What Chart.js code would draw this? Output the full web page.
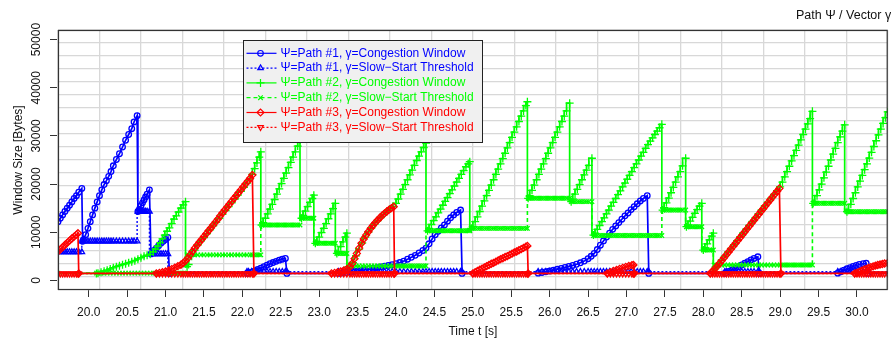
<!DOCTYPE html>
<html>
<head>
<meta charset="utf-8">
<script src="https://cdn.jsdelivr.net/npm/chart.js@4.4.1/dist/chart.umd.min.js"></script>
<style>
  html, body { margin: 0; padding: 0; background: #fff; overflow: hidden; }
  #wrap { width: 893px; height: 342px; }
</style>
</head>
<body>
<div id="wrap"><canvas id="cwnd" width="893" height="342"></canvas></div>
<script>
const FONT = '"Liberation Sans", Arial, Helvetica, sans-serif';

// axis ticks
const timeTicks = [20.0, 20.5, 21.0, 21.5, 22.0, 22.5, 23.0, 23.5, 24.0, 24.5, 25.0,
                   25.5, 26.0, 26.5, 27.0, 27.5, 28.0, 28.5, 29.0, 29.5, 30.0];
const windowTicks = [0, 10000, 20000, 30000, 40000, 50000];

// trace rows: [time t (s), congestion window (bytes), slow-start threshold (bytes)]
const path1Trace = [
  [19.60,12200,5900],[19.63,12900,5900],[19.66,13600,5900],[19.69,14300,5900],[19.72,15000,5900],[19.75,15600,5900],[19.78,16300,5900],[19.81,17000,5900],[19.84,17600,5900],[19.87,18300,5900],[19.91,19100,5900],
  [19.92,8100,8100],[19.93,8400,8100],[19.96,9500,8100],[19.99,10800,8100],[20.02,12200,8100],[20.05,13600,8100],[20.08,15000,8100],[20.11,16300,8100],[20.14,17600,8100],[20.17,18800,8100],[20.20,19900,8100],[20.23,20700,8100],[20.26,21600,8100],[20.29,22600,8100],[20.32,23800,8100],[20.36,25100,8100],[20.40,26300,8100],[20.44,27700,8100],[20.48,29100,8100],[20.52,30300,8100],[20.56,31500,8100],[20.59,32900,8100],[20.63,34200,8100],
  [20.64,14300,14300],[20.66,14800,14300],[20.68,15500,14300],[20.70,16100,14300],[20.72,16700,14300],[20.74,17300,14300],[20.76,17900,14300],[20.79,18800,14300],
  [20.81,5500,5500],[20.83,5800,5500],[20.85,6200,5500],[20.88,6700,5500],[20.91,7200,5500],[20.94,7700,5500],[20.97,8100,5500],[21.00,8500,5500],[21.03,8900,5500],
  [21.05,1450,1800],[22.06,1450,1800],
  [22.08,1500,1800],[22.12,1700,1800],[22.16,1950,1800],[22.20,2250,1800],[22.24,2550,1800],[22.28,2850,1800],[22.32,3150,1800],[22.36,3450,1800],[22.40,3700,1800],[22.44,3950,1800],[22.48,4200,1800],[22.52,4400,1800],[22.56,4550,1800],
  [22.58,1450,1800],[23.25,1450,1800],
  [23.30,1550,1800],[23.35,1650,1800],[23.40,1750,1800],[23.45,1850,1800],[23.50,1950,1800],[23.55,2050,1800],[23.60,2200,1800],[23.65,2350,1800],[23.70,2500,1800],[23.75,2650,1800],[23.80,2800,1800],[23.85,2950,1800],
  [23.90,3100,1800],[23.95,3250,1800],[24.00,3450,1800],[24.05,3700,1800],[24.10,4000,1800],[24.15,4400,1800],[24.20,4800,1800],[24.25,5200,1800],[24.30,5700,1800],[24.35,6200,1800],[24.39,6700,1800],
  [24.43,7600,1800],[24.47,8600,1800],[24.51,9500,1800],[24.55,10200,1800],[24.59,10900,1800],[24.63,11500,1800],[24.67,12300,1800],[24.71,13000,1800],[24.75,13600,1800],[24.79,14100,1800],[24.84,14600,1800],
  [24.86,1450,1800],
  [25.85,1500,1800],[25.90,1650,1800],[25.95,1800,1800],[26.00,1950,1800],[26.05,2100,1800],[26.10,2300,1800],[26.15,2500,1800],[26.20,2700,1800],[26.25,2900,1800],[26.30,3100,1800],[26.35,3350,1800],
  [26.40,3650,1800],[26.45,4000,1800],[26.50,4500,1800],[26.54,5000,1800],[26.58,5600,1800],[26.62,6400,1800],[26.66,7300,1800],[26.70,8200,1800],[26.74,9000,1800],[26.78,9800,1800],[26.82,10600,1800],
  [26.86,11300,1800],[26.90,12000,1800],[26.94,12700,1800],[26.98,13400,1800],[27.02,14000,1800],[27.06,14700,1800],[27.10,15300,1800],[27.14,15900,1800],[27.18,16500,1800],[27.22,17000,1800],[27.27,17600,1800],
  [27.29,1450,1800],[28.28,1450,1800],
  [28.30,1600,1800],[28.34,1900,1800],[28.38,2200,1800],[28.42,2500,1800],[28.46,2850,1800],[28.50,3200,1800],[28.54,3550,1800],[28.58,3900,1800],[28.62,4250,1800],[28.66,4550,1800],[28.71,4900,1800],
  [28.73,1450,1800],
  [29.75,1500,1800],[29.79,1800,1800],[29.83,2100,1800],[29.87,2400,1800],[29.91,2650,1800],[29.95,2900,1800],[29.99,3100,1800],[30.03,3300,1800],[30.08,3450,1800],[30.12,3550,1800],
  [30.14,1450,1800],[30.45,1450,1800]
];

const path2Trace = [
  [19.60,1450,1500],[20.10,1450,1500],
  [20.12,1500,1500],[20.16,1700,1500],[20.20,1900,1500],[20.24,2100,1500],[20.28,2350,1500],[20.32,2600,1500],[20.36,2850,1500],[20.40,3050,1500],[20.44,3250,1500],[20.48,3450,1500],[20.52,3650,1500],
  [20.56,3850,1500],[20.60,4100,1500],[20.64,4400,1500],[20.68,4700,1500],[20.72,5000,1500],[20.76,5200,1500],[20.80,5400,1500],[20.84,5900,1500],[20.87,6500,1500],[20.90,7100,1500],[20.93,7800,1500],
  [20.96,8600,1500],[20.99,9400,1500],[21.02,10200,1500],[21.05,10900,1500],[21.08,11800,1500],[21.11,12700,1500],[21.14,13400,1500],[21.17,14200,1500],[21.20,15000,1500],[21.23,15700,1500],[21.26,16350,1500],
  [21.28,2850,5300],[21.30,3300,5300],[21.34,5000,5300],[21.38,6300,5300],[21.42,7400,5300],[21.46,8200,5300],[21.50,8900,5300],[21.54,9700,5300],[21.58,10500,5300],[21.62,11300,5300],[21.66,12100,5300],
  [21.70,12900,5300],[21.74,13700,5300],[21.78,14500,5300],[21.82,15300,5300],[21.86,16100,5300],[21.90,16900,5300],[21.94,17700,5300],[21.98,18500,5300],[22.02,19300,5300],[22.06,20200,5300],
  [22.10,21100,5300],[22.13,22000,5300],[22.16,23200,5300],[22.19,24400,5300],[22.22,25600,5300],[22.24,26700,5300],
  [22.25,11500,11500],[22.27,12000,11500],[22.30,12900,11500],[22.33,13800,11500],[22.36,14800,11500],[22.39,15800,11500],[22.42,16800,11500],[22.45,17900,11500],[22.48,19000,11500],
  [22.51,20100,11500],[22.54,21200,11500],[22.57,22300,11500],[22.60,23400,11500],[22.63,24500,11500],[22.66,25600,11500],[22.69,26700,11500],[22.72,27900,11500],[22.75,29200,11500],
  [22.77,12900,12900],[22.79,13500,12900],[22.82,14400,12900],[22.85,15300,12900],[22.88,16200,12900],[22.91,17000,12900],[22.93,17700,12900],
  [22.95,7700,7700],[22.97,8100,7700],[23.00,9000,7700],[23.03,9900,7700],[23.06,10800,7700],[23.09,11800,7700],[23.12,12800,7700],[23.15,13800,7700],[23.18,14900,7700],[23.21,16000,7700],
  [23.23,5600,5600],[23.25,6000,5600],[23.28,7000,5600],[23.31,8000,5600],[23.34,9000,5600],[23.36,9800,5600],
  [23.38,2850,3000],[23.40,2900,3000],[23.44,3700,3000],[23.48,5100,3000],[23.52,6500,3000],[23.56,7800,3000],[23.60,9000,3000],[23.64,10000,3000],[23.68,10900,3000],[23.72,11700,3000],
  [23.76,12400,3000],[23.80,13100,3000],[23.84,13700,3000],[23.88,14300,3000],[23.92,14800,3000],[23.96,15300,3000],[24.00,16000,3000],[24.03,16900,3000],[24.06,17900,3000],[24.09,18900,3000],
  [24.12,19900,3000],[24.15,20900,3000],[24.18,21900,3000],[24.21,22900,3000],[24.24,23900,3000],[24.27,24900,3000],[24.30,25800,3000],[24.33,26700,3000],[24.36,27600,3000],[24.39,28500,3000],
  [24.41,10300,10300],[24.43,10800,10300],[24.46,11600,10300],[24.49,12400,10300],[24.52,13200,10300],[24.55,14000,10300],[24.58,14800,10300],[24.61,15600,10300],[24.64,16400,10300],[24.67,17200,10300],
  [24.70,18000,10300],[24.73,18800,10300],[24.76,19600,10300],[24.79,20400,10300],[24.82,21200,10300],[24.85,22000,10300],[24.88,22800,10300],[24.91,23600,10300],[24.94,24200,10300],[24.96,24650,10300],
  [24.98,10800,10800],[25.00,11200,10800],[25.03,12200,10800],[25.06,13200,10800],[25.09,14300,10800],[25.12,15400,10800],[25.15,16500,10800],[25.18,17600,10800],[25.21,18700,10800],
  [25.24,19800,10800],[25.27,20900,10800],[25.30,22000,10800],[25.33,23100,10800],[25.36,24200,10800],[25.39,25300,10800],[25.42,26400,10800],[25.45,27500,10800],[25.48,28600,10800],
  [25.51,29700,10800],[25.54,30800,10800],[25.57,31900,10800],[25.60,33000,10800],[25.63,34100,10800],[25.66,35200,10800],[25.69,36300,10800],[25.71,37100,10800],
  [25.72,17050,17050],[25.74,17600,17050],[25.77,18700,17050],[25.80,19800,17050],[25.83,20900,17050],[25.86,22000,17050],[25.89,23100,17050],[25.92,24200,17050],[25.95,25300,17050],
  [25.98,26400,17050],[26.01,27500,17050],[26.04,28600,17050],[26.07,29700,17050],[26.10,30800,17050],[26.13,31900,17050],[26.16,33000,17050],[26.19,34100,17050],[26.22,35200,17050],[26.26,36800,17050],
  [26.28,16350,16350],[26.30,16900,16350],[26.33,17900,16350],[26.36,18900,16350],[26.39,19900,16350],[26.42,20900,16350],[26.45,21900,16350],[26.48,22900,16350],[26.51,23900,16350],[26.55,25360,16350],
  [26.57,9400,9300],[26.59,9800,9300],[26.62,10600,9300],[26.65,11400,9300],[26.68,12200,9300],[26.71,13000,9300],[26.74,13800,9300],[26.77,14600,9300],[26.80,15400,9300],[26.83,16200,9300],
  [26.86,17000,9300],[26.89,17800,9300],[26.92,18600,9300],[26.95,19400,9300],[26.98,20200,9300],[27.01,21000,9300],[27.04,21800,9300],[27.07,22600,9300],[27.10,23400,9300],[27.13,24200,9300],
  [27.16,25000,9300],[27.19,25800,9300],[27.22,26600,9300],[27.25,27400,9300],[27.28,28200,9300],[27.31,28900,9300],[27.34,29600,9300],[27.37,30300,9300],[27.40,31000,9300],[27.43,31700,9300],[27.46,32400,9300],
  [27.47,14600,14600],[27.49,15100,14600],[27.52,16100,14600],[27.55,17100,14600],[27.58,18200,14600],[27.61,19300,14600],[27.64,20400,14600],[27.67,21500,14600],[27.70,22600,14600],[27.73,23800,14600],[27.77,25360,14600],
  [27.78,11150,11150],[27.80,11500,11150],[27.83,12300,11150],[27.86,13100,11150],[27.89,13900,11150],[27.92,14700,11150],[27.95,15400,11150],[27.98,16000,11150],
  [28.00,6300,6300],[28.02,6800,6300],[28.05,7600,6300],[28.08,8400,6300],[28.11,9200,6300],[28.13,9800,6300],
  [28.14,2200,3200],[28.16,2600,3200],[28.20,3400,3200],[28.24,4200,3200],[28.28,5000,3200],[28.32,5800,3200],[28.36,6600,3200],[28.40,7400,3200],[28.44,8200,3200],[28.48,9000,3200],
  [28.52,9800,3200],[28.56,10600,3200],[28.60,11400,3200],[28.64,12200,3200],[28.68,13000,3200],[28.72,13800,3200],[28.76,14600,3200],[28.80,15400,3200],[28.84,16200,3200],[28.88,17000,3200],
  [28.92,17800,3200],[28.96,18600,3200],[29.00,19400,3200],[29.03,20400,3200],[29.06,21500,3200],[29.09,22600,3200],[29.12,23700,3200],[29.15,24800,3200],[29.18,25900,3200],[29.21,27000,3200],
  [29.24,28100,3200],[29.27,29200,3200],[29.30,30300,3200],[29.33,31400,3200],[29.36,32500,3200],[29.39,33600,3200],[29.42,35100,3200],
  [29.43,16000,16000],[29.45,16400,16000],[29.48,17600,16000],[29.51,18800,16000],[29.54,20000,16000],[29.57,21300,16000],[29.60,22500,16000],[29.63,23700,16000],
  [29.66,25000,16000],[29.69,26200,16000],[29.72,27400,16000],[29.75,28600,16000],[29.78,29800,16000],[29.81,31000,16000],[29.84,32300,16000],
  [29.87,14270,14270],[29.89,14600,14270],[29.92,15800,14270],[29.95,17000,14270],[29.98,18200,14270],[30.01,19400,14270],[30.04,20600,14270],[30.07,21800,14270],[30.10,23000,14270],
  [30.13,24200,14270],[30.16,25400,14270],[30.19,26600,14270],[30.22,27800,14270],[30.25,29000,14270],[30.28,30200,14270],[30.31,31400,14270],[30.34,32600,14270],[30.37,33800,14270],[30.40,35000,14270]
];

const path3Trace = [
  [19.60,6000,1400],[19.63,6450,1400],[19.66,6900,1400],[19.69,7350,1400],[19.72,7800,1400],[19.75,8250,1400],[19.78,8700,1400],[19.81,9100,1400],[19.84,9500,1400],[19.86,9800,1400],
  [19.87,1450,1400],
  [20.88,1450,1400],[20.92,1550,1400],[20.96,1700,1400],[21.00,1850,1400],[21.04,2050,1400],[21.08,2350,1400],[21.12,2650,1400],[21.16,2950,1400],[21.20,3250,1400],[21.23,3600,1400],
  [21.26,4050,1400],[21.29,4600,1400],[21.32,5300,1400],[21.35,6000,1400],[21.38,6700,1400],[21.41,7300,1400],[21.44,7900,1400],[21.47,8500,1400],[21.50,9100,1400],[21.53,9700,1400],
  [21.56,10300,1400],[21.59,10900,1400],[21.62,11500,1400],[21.65,12100,1400],[21.68,12700,1400],[21.71,13400,1400],[21.74,14000,1400],[21.77,14600,1400],[21.80,15200,1400],[21.83,15800,1400],
  [21.86,16400,1400],[21.89,17000,1400],[21.92,17600,1400],[21.95,18200,1400],[21.98,18800,1400],[22.01,19400,1400],[22.04,20000,1400],[22.07,20600,1400],[22.10,21200,1400],[22.13,21900,1400],
  [22.15,1450,1400],
  [23.16,1450,1400],[23.20,1550,1400],[23.24,1700,1400],[23.28,1850,1400],[23.32,2050,1400],[23.36,2350,1400],[23.40,2800,1400],[23.43,3500,1400],[23.46,4500,1400],[23.49,5600,1400],
  [23.52,6700,1400],[23.55,7700,1400],[23.58,8600,1400],[23.61,9400,1400],[23.64,10100,1400],[23.67,10800,1400],[23.70,11400,1400],[23.73,12000,1400],[23.76,12500,1400],[23.79,13000,1400],
  [23.82,13500,1400],[23.85,13900,1400],[23.88,14300,1400],[23.91,14700,1400],[23.94,15000,1400],[23.97,15300,1400],
  [23.98,1450,1400],
  [25.00,1450,1400],[25.03,1700,1400],[25.06,1950,1400],[25.09,2200,1400],[25.12,2450,1400],[25.15,2700,1400],[25.18,2950,1400],[25.21,3200,1400],[25.24,3450,1400],[25.27,3650,1400],
  [25.30,3900,1400],[25.33,4150,1400],[25.36,4400,1400],[25.39,4600,1400],[25.42,4850,1400],[25.45,5050,1400],[25.48,5300,1400],[25.51,5550,1400],[25.54,5800,1400],[25.57,6000,1400],
  [25.60,6250,1400],[25.63,6500,1400],[25.66,6750,1400],[25.69,7000,1400],[25.71,7150,1400],
  [25.72,1450,1400],
  [26.75,1450,1400],[26.79,1700,1400],[26.83,1950,1400],[26.87,2150,1400],[26.91,2400,1400],[26.95,2600,1400],[26.99,2800,1400],[27.03,3000,1400],[27.07,3150,1400],[27.09,3200,1400],
  [27.10,1450,1400],
  [28.09,1450,1400],[28.12,1900,1400],[28.15,2400,1400],[28.18,2950,1400],[28.21,3500,1400],[28.24,4100,1400],[28.27,4700,1400],[28.30,5300,1400],[28.33,5900,1400],[28.36,6500,1400],
  [28.39,7100,1400],[28.42,7700,1400],[28.45,8300,1400],[28.48,8900,1400],[28.51,9500,1400],[28.54,10100,1400],[28.57,10700,1400],[28.60,11300,1400],[28.63,11900,1400],[28.66,12500,1400],
  [28.69,13100,1400],[28.72,13700,1400],[28.75,14300,1400],[28.78,14900,1400],[28.81,15500,1400],[28.84,16100,1400],[28.87,16700,1400],[28.90,17300,1400],[28.93,17900,1400],[28.96,18500,1400],[28.99,19100,1400],
  [29.01,1450,1400],
  [29.97,1450,1400],[30.00,1600,1400],[30.03,1800,1400],[30.06,2000,1400],[30.09,2200,1400],[30.12,2400,1400],[30.15,2600,1400],[30.18,2750,1400],[30.21,2900,1400],[30.24,3050,1400],
  [30.27,3200,1400],[30.30,3300,1400],[30.33,3400,1400],[30.36,3500,1400],[30.40,3600,1400]
];

const BLUE = '#0000ff', GREEN = '#00ff00', RED = '#ff0000';

const cwndOf = trace => trace.map(r => ({ x: r[0], y: r[1] }));
const ssthOf = trace => trace.map(r => ({ x: r[0], y: r[2] }));

function series(label, data, color, style, opts) {
  return Object.assign({
    label, data,
    xAxisID: 'x', yAxisID: 'y',
    borderColor: color,
    borderWidth: 1.7,
    fill: false,
    tension: 0,
    pointStyle: style,
    pointRadius: 3.2,
    pointBorderWidth: 1.3,
    pointBorderColor: color,
    pointBackgroundColor: 'rgba(0,0,0,0)'
  }, opts);
}

const datasets = [
  series('\u03A8=Path #1, \u03B3=Congestion Window', cwndOf(path1Trace), BLUE, 'circle', { pointRadius: 2.8, order: 6 }),
  series('\u03A8=Path #1, \u03B3=Slow\u2212Start Threshold', ssthOf(path1Trace), BLUE, 'triangle', { borderWidth: 1.4, borderDash: [2, 2], stepped: 'after', order: 5 }),
  series('\u03A8=Path #2, \u03B3=Congestion Window', cwndOf(path2Trace), GREEN, 'cross', { pointRadius: 4, stepped: 'after', order: 4 }),
  series('\u03A8=Path #2, \u03B3=Slow\u2212Start Threshold', ssthOf(path2Trace), GREEN, 'crossRot', { borderWidth: 1.6, borderDash: [4, 3], stepped: 'after', order: 3 }),
  series('\u03A8=Path #3, \u03B3=Congestion Window', cwndOf(path3Trace), RED, 'rectRot', { pointRadius: 3.5, order: 2 }),
  series('\u03A8=Path #3, \u03B3=Slow\u2212Start Threshold', ssthOf(path3Trace), RED, 'triangle', { borderWidth: 1.4, borderDash: [2, 2], stepped: 'after', pointRotation: 180, order: 1 })
];

// box around the plot region
const frame = {
  id: 'frame',
  afterDatasetsDraw(chart) {
    const { ctx, chartArea: a } = chart;
    ctx.save();
    ctx.strokeStyle = '#333';
    ctx.lineWidth = 1.2;
    ctx.strokeRect(a.left + 0.5, a.top + 0.5, a.right - a.left - 1, a.bottom - a.top - 1);
    ctx.restore();
  }
};

// R-style vertical labels on the window axis
const windowLabels = {
  id: 'windowLabels',
  afterDraw(chart) {
    const { ctx } = chart;
    const y = chart.scales.y;
    ctx.save();
    ctx.fillStyle = '#111';
    ctx.font = '12px ' + FONT;
    ctx.textAlign = 'center';
    ctx.textBaseline = 'middle';
    windowTicks.forEach(v => {
      ctx.save();
      ctx.translate(37, y.getPixelForValue(v));
      ctx.rotate(-Math.PI / 2);
      ctx.fillText(String(v), 0, 0);
      ctx.restore();
    });
    ctx.restore();
  }
};

// boxed legend inside the plot, grey background
const legendBox = {
  id: 'legendBox',
  afterDraw(chart) {
    const { ctx } = chart;
    const left = 243.5, top = 40.5, w = 239, h = 102, row = 14.8;
    ctx.save();
    ctx.fillStyle = '#f0f0f0';
    ctx.strokeStyle = '#222';
    ctx.lineWidth = 1;
    ctx.fillRect(left, top, w, h);
    ctx.strokeRect(left, top, w, h);
    ctx.font = '12px ' + FONT;
    ctx.textBaseline = 'middle';
    chart.data.datasets.forEach((ds, i) => {
      const y = top + 12.8 + i * row;
      ctx.strokeStyle = ds.borderColor;
      ctx.lineWidth = 1.2;
      ctx.setLineDash(ds.borderDash || []);
      ctx.beginPath();
      ctx.moveTo(left + 3, y);
      ctx.lineTo(left + 33, y);
      ctx.stroke();
      ctx.setLineDash([]);
      ctx.fillStyle = 'rgba(0,0,0,0)';
      ctx.lineWidth = 1.2;
      Chart.helpers.drawPoint(ctx, {
        pointStyle: ds.pointStyle, rotation: ds.pointRotation || 0,
        radius: ds.pointRadius, borderWidth: 1.2
      }, left + 17, y);
      ctx.fillStyle = ds.borderColor;
      ctx.fillText(ds.label, left + 37, y);
    });
    ctx.restore();
  }
};

const heading = {
  id: 'heading',
  afterDraw(chart) {
    const { ctx } = chart;
    ctx.save();
    ctx.fillStyle = '#111';
    ctx.font = '12.5px ' + FONT;
    ctx.textBaseline = 'middle';
    ctx.fillText('Path \u03A8 / Vector \u03B3', 796, 16);
    ctx.restore();
  }
};

new Chart(document.getElementById('cwnd'), {
  type: 'line',
  data: { datasets },
  plugins: [frame, windowLabels, legendBox, heading],
  options: {
    responsive: false,
    devicePixelRatio: 1,
    animation: false,
    events: [],
    layout: { padding: { top: 30, right: 1, left: 0, bottom: 0 } },
    plugins: { legend: { display: false }, tooltip: { enabled: false } },
    scales: {
      x: {
        type: 'linear', position: 'bottom', min: 19.6, max: 30.4,
        afterBuildTicks: s => { s.ticks = timeTicks.map(v => ({ value: v })); },
        afterFit: s => { s.height = 52; },
        grid: { drawOnChartArea: false, tickLength: 7, tickColor: '#333', tickWidth: 1 },
        border: { display: false },
        ticks: {
          autoSkip: false, maxRotation: 0, padding: 8, color: '#111',
          font: { family: FONT, size: 12 },
          callback: v => Number(v).toFixed(1)
        },
        title: { display: true, text: 'Time t [s]', color: '#111', font: { family: FONT, size: 12 }, padding: { top: 0, bottom: 3 } }
      },
      y: {
        type: 'linear', position: 'left', min: -2000, max: 52000,
        afterBuildTicks: s => { s.ticks = windowTicks.map(v => ({ value: v })); },
        afterFit: s => { s.width = 58; },
        grid: { drawOnChartArea: false, tickLength: 8, tickColor: '#333', tickWidth: 1 },
        border: { display: false },
        ticks: { display: false },
        title: { display: true, text: 'Window Size [Bytes]', color: '#111', font: { family: FONT, size: 12 }, padding: { top: 11, bottom: 0 } }
      },
      gx: {
        type: 'linear', axis: 'x', position: 'bottom', min: 0, max: 20,
        afterFit: s => { s.height = 0; },
        ticks: { display: false, stepSize: 1 },
        grid: { color: '#d8d8d8', lineWidth: 1.3, drawTicks: false },
        border: { display: false }
      },
      gy: {
        type: 'linear', axis: 'y', position: 'left', min: 0, max: 20,
        afterFit: s => { s.width = 0; },
        ticks: { display: false, stepSize: 1 },
        grid: { color: '#d8d8d8', lineWidth: 1.3, drawTicks: false },
        border: { display: false }
      }
    }
  }
});
</script>
</body>
</html>
